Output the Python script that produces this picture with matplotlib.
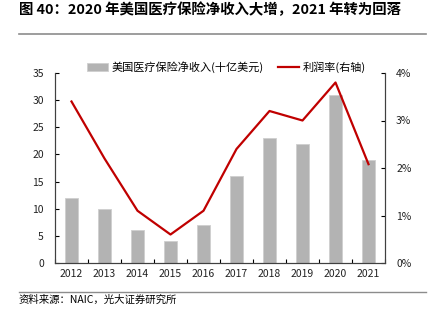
import numpy as np
import matplotlib
matplotlib.use("Agg")
import matplotlib.pyplot as plt
from matplotlib.ticker import PercentFormatter

plt.rcParams['font.family'] = ['Noto Sans CJK SC', 'DejaVu Sans']

# data
years = ['2012', '2013', '2014', '2015', '2016', '2017', '2018', '2019', '2020', '2021']
net_income = [12, 10, 6, 4, 7, 16, 23, 22, 31, 19]            # 十亿美元
margin = [3.4, 2.2, 1.1, 0.6, 1.1, 2.4, 3.2, 3.0, 3.8, 2.08]   # %

title = '图 40：2020 年美国医疗保险净收入大增，2021 年转为回落'
source = '资料来源：NAIC，光大证券研究所'
bar_label = '美国医疗保险净收入(十亿美元)'
line_label = '利润率(右轴)'

fig = plt.figure(figsize=(4.31, 3.26), dpi=100)
ax = fig.add_axes([55/431, 1-263/326, 330/431, 190/326])
ax2 = ax.twinx()

x = np.arange(len(years))
bars = ax.bar(x, net_income, width=0.42, color='#b3b3b3', edgecolor='#cfcfcf',
              linewidth=0.6, label=bar_label, zorder=2)
line, = ax2.plot(x, margin, color='#c00000', linewidth=1.6, label=line_label, zorder=3)

ax.set_xlim(-0.5, len(years) - 0.5)
ax.set_ylim(0, 35)
ax.set_yticks(range(0, 36, 5))
ax2.set_ylim(0, 4)
ax2.set_yticks([0, 1, 2, 3, 4])
ax2.yaxis.set_major_formatter(PercentFormatter(decimals=0))

ax.set_xticks(x)
ax.set_xticklabels(years)
ax.set_xticks(np.arange(-0.5, len(years), 1), minor=True)
ax.tick_params(axis='x', which='major', length=0, labelsize=7.5, pad=4)
ax.tick_params(axis='x', which='minor', direction='in', length=3, width=0.8)
ax.tick_params(axis='y', direction='in', length=3, width=0.8, labelsize=7.5, pad=8)
ax2.tick_params(axis='y', direction='in', length=3, width=0.8, labelsize=7.5, pad=8)

for a in (ax, ax2):
    a.spines['top'].set_visible(False)
    for s in ('left', 'right', 'bottom'):
        a.spines[s].set_color('#404040')
        a.spines[s].set_linewidth(0.8)
for lab in ax.get_xticklabels() + ax.get_yticklabels() + ax2.get_yticklabels():
    lab.set_color('#222222')

ax.legend([bars, line], [bar_label, line_label], ncol=2, frameon=False,
          loc='lower center', bbox_to_anchor=(0.52, 0.975), fontsize=8,
          handlelength=1.9, handletextpad=0.3, columnspacing=1.3, borderaxespad=0)

# title, rules and source note
fig.text(19/431, 1-10/326, title, fontsize=10.4, fontweight='bold', va='center', ha='left')
fig.add_artist(plt.Line2D([19/431, 426/431], [1-34/326, 1-34/326], color='#8c8c8c', linewidth=1.2))
fig.add_artist(plt.Line2D([19/431, 426/431], [1-292/326, 1-292/326], color='#8c8c8c', linewidth=1.0))
fig.text(19/431, 1-300/326, source, fontsize=7.5, va='center', ha='left')

fig.savefig('out.png', dpi=100)
